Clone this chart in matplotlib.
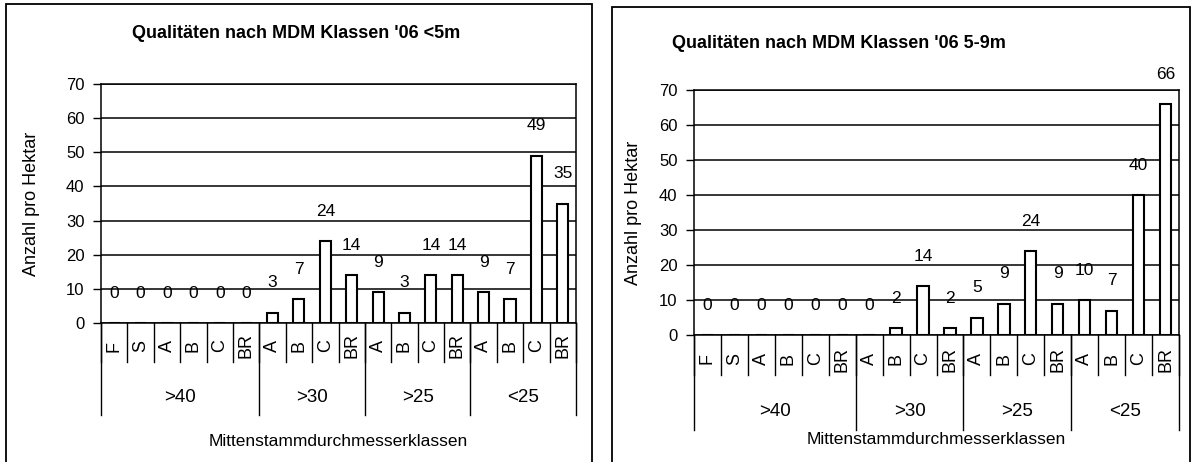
import numpy as np
import matplotlib
matplotlib.use('Agg')
import matplotlib.pyplot as plt
from matplotlib import transforms, font_manager
from matplotlib.patches import Rectangle
from matplotlib.lines import Line2D

# daten
qualitaeten = ['F', 'S', 'A', 'B', 'C', 'BR', 'A', 'B', 'C', 'BR',
               'A', 'B', 'C', 'BR', 'A', 'B', 'C', 'BR']
gruppen = ['>40', '>30', '>25', '<25']
gruppen_n = [6, 4, 4, 4]
werte_5m = [0, 0, 0, 0, 0, 0, 3, 7, 24, 14, 9, 3, 14, 14, 9, 7, 49, 35]
werte_5_9m = [0, 0, 0, 0, 0, 0, 0, 2, 14, 2, 5, 9, 24, 9, 10, 7, 40, 66]
titel_5m = "Qualitäten nach MDM Klassen '06 <5m"
titel_5_9m = "Qualitäten nach MDM Klassen '06 5-9m"

# schrift: schmal wenn vorhanden
namen = {f.name for f in font_manager.fontManager.ttflist}
normal = ['Liberation Sans', 'DejaVu Sans']
schmal = ['Liberation Sans Narrow'] + normal if 'Liberation Sans Narrow' in namen else normal
plt.rcParams['font.family'] = normal

W, H = 1192, 462
fig = plt.figure(figsize=(W / 100, H / 100), dpi=100)


def panel(px, werte, ax_h, cat_line, grp_line, cat_lab, grp_lab, xlab, ylab_x):
    ax = fig.add_axes([px[0] / W, 1 - px[3] / H, (px[1] - px[0]) / W, (px[3] - px[2]) / H])
    x = np.arange(len(werte))
    ax.bar(x, werte, width=0.42, color='white', edgecolor='black', linewidth=1.5, zorder=3)
    for xi, v in zip(x, werte):
        ax.annotate(str(v), (xi, v), xytext=(0, 21.5), textcoords='offset points',
                    ha='center', va='center', fontsize=12.5, family=schmal, zorder=4)
    ax.set_xlim(-0.5, len(werte) - 0.5)
    ax.set_ylim(0, 70)
    ax.set_yticks(range(0, 71, 10))
    ax.yaxis.grid(True, color='black', linewidth=1.1)
    ax.set_axisbelow(True)
    ax.set_xticks([])
    ax.tick_params(axis='y', length=5.8, width=1, pad=6, labelsize=12, colors='black')
    for s in ax.spines.values():
        s.set_color('black')
        s.set_linewidth(1.1)

    trans = transforms.blended_transform_factory(ax.transData, ax.transAxes)
    f = lambda p: -p / ax_h
    # trennlinien kategorien
    for b in np.arange(len(werte) + 1) - 0.5:
        ax.add_line(Line2D([b, b], [0, f(cat_line)], transform=trans, color='black',
                           lw=1.0, clip_on=False))
    for xi, q in zip(x, qualitaeten):
        ax.text(xi, f(cat_lab), q, transform=trans, rotation=90, ha='center', va='center',
                fontsize=13)
    # gruppen
    grenzen = np.concatenate([[0], np.cumsum(gruppen_n)]) - 0.5
    for b in grenzen:
        ax.add_line(Line2D([b, b], [0, f(grp_line)], transform=trans, color='black',
                           lw=1.0, clip_on=False))
    for g, a, e in zip(gruppen, grenzen[:-1], grenzen[1:]):
        ax.text((a + e) / 2, f(grp_lab), g, transform=trans, ha='center', va='center',
                fontsize=13.5, family=schmal)
    ax.text(0.5, f(xlab), 'Mittenstammdurchmesserklassen', transform=ax.transAxes,
            ha='center', va='center', fontsize=12.5, family=schmal)
    ax.text(ylab_x, 0.5, 'Anzahl pro Hektar', transform=ax.transAxes, rotation=90,
            ha='center', va='center', fontsize=13)
    return ax


panel((101, 576, 84, 323), werte_5m, 239, 39, 92, 23, 74, 118, (31 - 101) / 475)
panel((694, 1179, 90, 335), werte_5_9m, 245, 40, 95, 24, 76, 104, (634 - 694) / 485)

fig.text(296 / W, 1 - 34 / H, titel_5m, ha='center', va='center', fontsize=13,
         fontweight='bold', family=schmal)
fig.text(839 / W, 1 - 43 / H, titel_5_9m, ha='center', va='center', fontsize=13,
         fontweight='bold', family=schmal)

# rahmen
fig.add_artist(Rectangle((6 / W, -0.05), 586 / W, 1.05 - 4 / H, transform=fig.transFigure,
                         fill=False, lw=1.3, edgecolor='black'))
fig.add_artist(Rectangle((612 / W, -0.05), 578 / W, 1.05 - 7 / H, transform=fig.transFigure,
                         fill=False, lw=1.3, edgecolor='black'))

fig.savefig('out.png', dpi=100)
